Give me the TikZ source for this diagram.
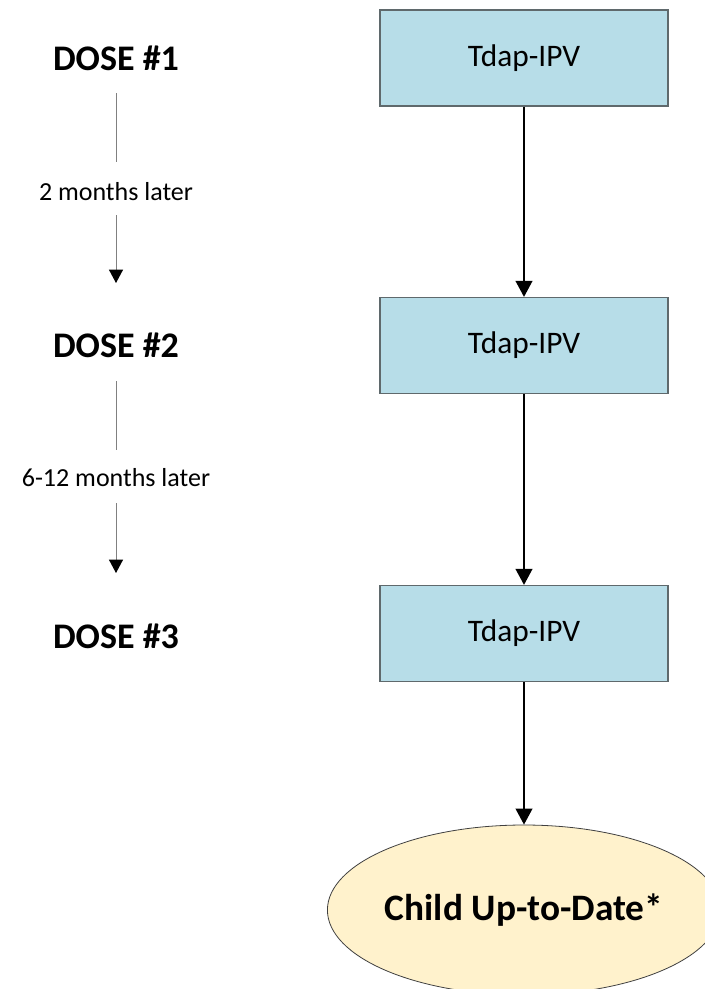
\documentclass[tikz,border=0pt]{standalone}
\usepackage{xcolor}
\usepackage{fontspec}
\setmainfont{Carlito}
\usepackage{tikz}
\usetikzlibrary{arrows.meta}
\usetikzlibrary{shapes.geometric}

\definecolor{boxblue}{RGB}{183,221,232}
\definecolor{boxline}{RGB}{95,105,108}
\definecolor{ovalfill}{RGB}{255,242,204}
\definecolor{gapgray}{RGB}{128,128,128}

\tikzset{
  vaccbox/.style={draw=boxline, fill=boxblue, line width=0.9pt, minimum width=216pt, minimum height=72pt, inner sep=0pt, font=\fontsize{23.5}{28}\selectfont},
  doselabel/.style={inner sep=0pt, font=\fontsize{27}{32}\selectfont\bfseries},
  gaplabel/.style={inner sep=0pt, font=\fontsize{19.5}{24}\selectfont},
  gapline/.style={draw=gapgray, line width=0.75pt},
  gaparrow/.style={gapline, -{Triangle[length=10pt,width=10.5pt,black]}},
  mainarrow/.style={line width=1.5pt, -{Triangle[length=12pt,width=12.5pt]}}
}

\begin{document}
\begin{tikzpicture}[x=0.75pt,y=0.75pt,yscale=-1]
\useasboundingbox (0,0) rectangle (705,989);
\clip (0,0) rectangle (705,989);

%Shape: Rectangle [id:box1]
\node[vaccbox] (b1) at (524,58) {Tdap-IPV};
%Shape: Rectangle [id:box2]
\node[vaccbox] (b2) at (524,345.5) {Tdap-IPV};
%Shape: Rectangle [id:box3]
\node[vaccbox] (b3) at (524,633.5) {Tdap-IPV};
%Shape: Ellipse [id:uptodate]
\node[ellipse, draw=black!75, fill=ovalfill, line width=0.6pt, minimum width=288pt, minimum height=127.5pt, inner sep=0pt, font=\fontsize{28}{33}\selectfont\bfseries] (done) at (524,910) {Child Up-to-Date*};

% Text Node
\node[doselabel] (d1) at (116,58) {DOSE \#1};
% Text Node
\node[doselabel] (d2) at (116,345) {DOSE \#2};
% Text Node
\node[doselabel] (d3) at (116,636) {DOSE \#3};
% Text Node
\node[gaplabel] (t1) at (116,192) {2 months later};
% Text Node
\node[gaplabel] (t2) at (116,478) {6-12 months later};

%Straight Lines
\draw[mainarrow] (b1) -- (b2);
\draw[mainarrow] (b2) -- (b3);
\draw[mainarrow] (b3) -- (done);

\draw[gapline, shorten <=26.25pt, shorten >=22.5pt] (d1.center) -- (t1.center);
\draw[gaparrow, shorten <=17.25pt, shorten >=46.5pt] (t1.center) -- (d2.center);
\draw[gapline, shorten <=27pt, shorten >=21pt] (d2.center) -- (t2.center);
\draw[gaparrow, shorten <=18.75pt, shorten >=47.25pt] (t2.center) -- (d3.center);

\end{tikzpicture}
\end{document}
